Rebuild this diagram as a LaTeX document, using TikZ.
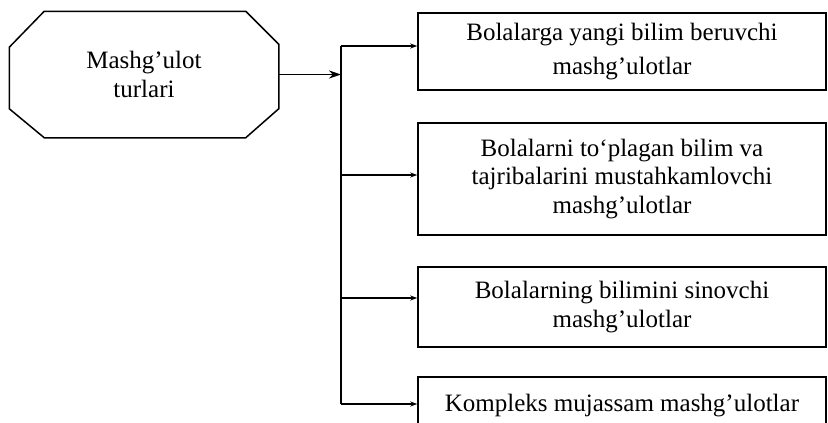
\documentclass[tikz,border=0pt]{standalone}
\usepackage{fontspec}
\setmainfont{Liberation Serif}
\usetikzlibrary{arrows.meta,calc}
\begin{document}
\begin{tikzpicture}[x=1pt,y=-1pt,
  line width=1.5pt,
  txt/.style={font=\fontsize{25}{28.5}\selectfont, align=center, inner sep=0pt},
  boxnode/.style={txt, draw, minimum width=408pt},
  arr/.style={-{Stealth[length=7pt,width=5pt]}},
  mainarr/.style={line width=1.8pt, -{Stealth[length=12pt,width=8pt]}}]
\useasboundingbox (0,0) rectangle (828,423);
% octagon
\node[txt, minimum width=268pt, minimum height=125pt] (oct) at (144,74.5) {Mashg’ulot\\turlari};
\draw ($(oct.north west)+(35,0)$) -- ($(oct.north east)+(-33,0)$) -- ($(oct.north east)+(0,33)$)
  -- ($(oct.south east)+(0,-29)$) -- ($(oct.south east)+(-33,0)$) -- ($(oct.south west)+(35,0)$)
  -- ($(oct.south west)+(0,-29)$) -- ($(oct.north west)+(0,36)$) -- cycle;
% boxes
\node[boxnode, minimum height=77pt] (b1) at (622,51.5) {Bolalarga yangi bilim beruvchi\\[6pt]mashg’ulotlar};
\node[boxnode, minimum height=112pt] (b2) at (622,179) {Bolalarni to‘plagan bilim va\\tajribalarini mustahkamlovchi\\mashg’ulotlar};
\node[boxnode, minimum height=80pt] (b3) at (622,307) {Bolalarning bilimini sinovchi\\mashg’ulotlar};
\node[boxnode, minimum height=58pt] (b4) at (622,406) {Kompleks mujassam mashg’ulotlar};
% connectors
\coordinate (j) at (341,74.5);
\draw[mainarr] (oct.east) -- (j);
\coordinate (t1) at ([yshift=5.5pt]b1.west);
\coordinate (t2) at ([yshift=4pt]b2.west);
\coordinate (t3) at ([yshift=9pt]b3.west);
\coordinate (t4) at ([yshift=2pt]b4.west);
\draw (j |- t1) -- (j |- t4);
\draw[arr] (j |- t1) -- (t1);
\draw[arr] (j |- t2) -- (t2);
\draw[arr] (j |- t3) -- (t3);
\draw[arr] (j |- t4) -- (t4);
\end{tikzpicture}
\end{document}
